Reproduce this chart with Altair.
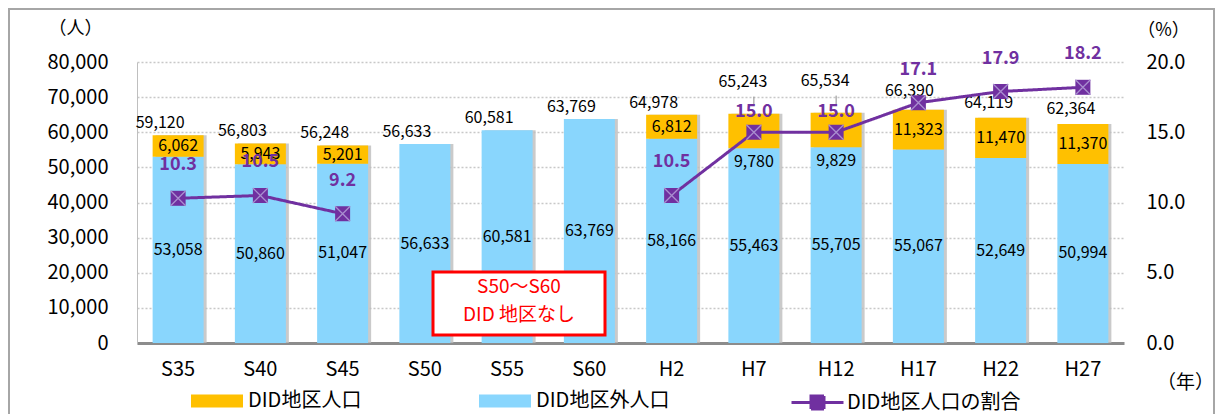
import altair as alt
import pandas as pd

FONT = "Noto Sans CJK JP"
ORANGE = "#FFC000"
BLUE = "#89D6FD"
PURPLE = "#7030A0"

years = ["S35", "S40", "S45", "S50", "S55", "S60", "H2", "H7", "H12", "H17", "H22", "H27"]
did = [6062, 5943, 5201, None, None, None, 6812, 9780, 9829, 11323, 11470, 11370]
outside = [53058, 50860, 51047, 56633, 60581, 63769, 58166, 55463, 55705, 55067, 52649, 50994]
total = [59120, 56803, 56248, 56633, 60581, 63769, 64978, 65243, 65534, 66390, 64119, 62364]
pct = [10.3, 10.5, 9.2, None, None, None, 10.5, 15.0, 15.0, 17.1, 17.9, 18.2]

series_names = ["DID地区人口", "DID地区外人口", "DID地区人口の割合"]
note_lines = ["S50～S60", "DID 地区なし"]

wide = pd.DataFrame({"year": years, "did": did, "outside": outside, "total": total, "pct": pct})
long = pd.concat([
    pd.DataFrame({"year": years, "series": series_names[1], "value": outside, "ord": 0}),
    pd.DataFrame({"year": years, "series": series_names[0], "value": did, "ord": 1}),
]).dropna(subset=["value"])

xscale = alt.Scale(domain=years, paddingInner=0.38, paddingOuter=0.19)
yl = alt.Scale(domain=[0, 80000], nice=False)
yr = alt.Scale(domain=[0, 20], nice=False)

x_axis = alt.Axis(labelAngle=0, labelFontSize=20, labelPadding=16, ticks=False,
                  domainColor="#8C8C8C", domainWidth=3, labelColor="black",
                  titleX=1048, titleY=39, titleFontSize=19, titleFontWeight="normal",
                  titleAlign="center", titleBaseline="middle", titleColor="black")
yl_axis = alt.Axis(values=list(range(0, 80001, 10000)), format=",.0f", labelFontSize=20,
                   labelPadding=29, ticks=False, domainColor="#BFBFBF", domainWidth=1,
                   grid=True, gridDash=[2, 2], gridColor="#C8C8C8", gridWidth=1.5,
                   labelColor="black", titleAngle=0, titleX=-62, titleY=-34,
                   titleAlign="center", titleBaseline="middle", titleFontSize=18,
                   titleFontWeight="normal", titleColor="black")
yr_axis = alt.Axis(orient="right", values=[0, 5, 10, 15, 20], format=".1f", labelFontSize=20,
                   labelPadding=22, ticks=False, domain=False, grid=False, labelColor="black",
                   titleAngle=0, titleX=39, titleY=-32, titleAlign="center",
                   titleBaseline="middle", titleFontSize=18, titleFontWeight="normal",
                   titleColor="black")

X = alt.X("year:N", sort=years, scale=xscale, title="（年）", axis=x_axis)


def YL(field):
    return alt.Y(field, scale=yl, title="（人）", axis=yl_axis)


def YR(field):
    return alt.Y(field, scale=yr, title="（%）", axis=yr_axis)


base = alt.Chart(wide)

shadow = base.mark_bar(color="#BDBDBD", opacity=0.8).encode(
    x=X, y=YL("total:Q"), xOffset=alt.value(3))

bars = alt.Chart(long).mark_bar().encode(
    x=X,
    y=alt.Y("value:Q", stack="zero", scale=yl, title="（人）", axis=yl_axis),
    color=alt.Color("series:N", scale=alt.Scale(domain=series_names[:2], range=[ORANGE, BLUE]),
                    legend=alt.Legend(title=None, orient="none", legendX=67, legendY=326,
                                      direction="horizontal",
                                      symbolType="M-2,-0.5L2,-0.5L2,0.5L-2,0.5Z", symbolSize=676,
                                      symbolStrokeWidth=0, labelFontSize=20, labelOffset=18,
                                      columnPadding=117, padding=0, labelColor="black",
                                      labelFont=FONT, labelLimit=300)),
    order=alt.Order("ord:Q"),
)


def txt(chart, yfield, textfield, dy=0, dx=0):
    return chart.mark_text(fontSize=16, baseline="middle", align="center", color="black",
                           dy=dy, dx=dx, font=FONT).encode(
        x=X, y=YL(yfield), text=alt.Text(textfield, format=",.0f"))


blue_lbl = txt(base.transform_calculate(ymid="datum.outside/2"), "ymid:Q", "outside:Q")
orange_lbl = txt(base.transform_filter("datum.did != null && datum.year != 'H7' && datum.year != 'H12'")
                 .transform_calculate(ymid="datum.outside + datum.did/2"), "ymid:Q", "did:Q")
orange_lbl2 = txt(base.transform_filter("datum.year == 'H7' || datum.year == 'H12'"),
                  "outside:Q", "did:Q", dy=14)
tot_s = txt(base.transform_filter(alt.FieldOneOfPredicate(field="year", oneOf=years[:7])),
            "total:Q", "total:Q", dy=-12, dx=-18)
tot_raised = txt(base.transform_filter(alt.FieldOneOfPredicate(field="year", oneOf=["H7", "H12"])),
                 "total:Q", "total:Q", dy=-32, dx=-11)
tot_h17 = txt(base.transform_filter("datum.year == 'H17'"), "total:Q", "total:Q", dy=-19, dx=-9)
tot_h = txt(base.transform_filter(alt.FieldOneOfPredicate(field="year", oneOf=["H22", "H27"])),
            "total:Q", "total:Q", dy=-15, dx=-12)
leader = base.transform_filter(alt.FieldOneOfPredicate(field="year", oneOf=["H7", "H12"])) \
    .transform_calculate(ya="datum.total + 2500", yb="datum.total + 4900") \
    .mark_rule(color="#8C8C8C", strokeWidth=1).encode(x=X, y=YL("ya:Q"), y2="yb:Q")

note_df = pd.DataFrame({"t": note_lines, "ypix": [225, 253]})
note_box = alt.Chart(note_df.head(1)).mark_rect(fill="white", stroke="#FF0000", strokeWidth=3).encode(
    x=alt.value(296), x2=alt.value(468), y=alt.value(210), y2=alt.value(273))
note_txt = alt.Chart(note_df).mark_text(fontSize=19, color="#FF0000", baseline="middle",
                                        align="center", font=FONT).encode(
    x=alt.value(382), y=alt.Y("ypix:Q", scale=None), text="t:N")

frame = alt.Chart(note_df.head(1)).mark_rect(fillOpacity=0, stroke="#A6A6A6", strokeWidth=2).encode(
    x=alt.value(-128), x2=alt.value(1077), y=alt.value(-53), y2=alt.value(420))

left = alt.layer(shadow, bars, blue_lbl, orange_lbl, orange_lbl2, tot_s, tot_raised, tot_h17, tot_h,
                 leader, note_box, note_txt, frame)

pbase = base.transform_filter("datum.pct != null").transform_calculate(
    era="substring(datum.year, 0, 1)", lab="'" + series_names[2] + "'")

line = pbase.mark_line(color=PURPLE, strokeWidth=3).encode(
    x=X,
    y=YR("pct:Q"),
    detail="era:N",
    strokeDash=alt.StrokeDash("lab:N", scale=alt.Scale(domain=[series_names[2]], range=[[1, 0]]),
                              legend=alt.Legend(title=None, orient="none", legendX=666, legendY=326,
                                                symbolType="M-2,0L2,0M-0.5,-0.5L0.5,-0.5L0.5,0.5L-0.5,0.5Z",
                                                symbolSize=676, symbolStrokeWidth=3,
                                                symbolStrokeColor=PURPLE, symbolFillColor=PURPLE,
                                                labelFontSize=20, labelOffset=15, padding=0,
                                                labelColor="black", labelFont=FONT, labelLimit=300)),
)
sq = pbase.mark_point(shape="square", filled=True, size=225, color=PURPLE, opacity=1).encode(
    x=X, y=YR("pct:Q"))
xm = pbase.mark_point(shape="M-1,-1L1,1M1,-1L-1,1", filled=False, size=225, color="#A98FD0",
                      strokeWidth=1.3, opacity=1).encode(x=X, y=YR("pct:Q"))


def ptxt(chart, dy):
    return chart.mark_text(fontSize=18, fontWeight="bold", color=PURPLE, baseline="middle",
                           align="center", dy=dy, font=FONT).encode(
        x=X, y=YR("pct:Q"), text=alt.Text("pct:Q", format=".1f"))


p_lbl = ptxt(pbase.transform_filter("datum.year != 'H7' && datum.year != 'H12'"), -33)
p_lbl2 = ptxt(pbase.transform_filter("datum.year == 'H7' || datum.year == 'H12'"), -20)

right = alt.layer(line, sq, xm, p_lbl, p_lbl2)

chart = alt.layer(left, right).resolve_scale(y="independent").properties(
    width=987, height=281,
    autosize=alt.AutoSizeParams(type="none"),
    padding={"left": 129, "top": 54, "right": 92, "bottom": 71},
).configure(font=FONT).configure_view(strokeWidth=0)

chart.save("out.html", embed_options={"renderer": "svg", "actions": False})
